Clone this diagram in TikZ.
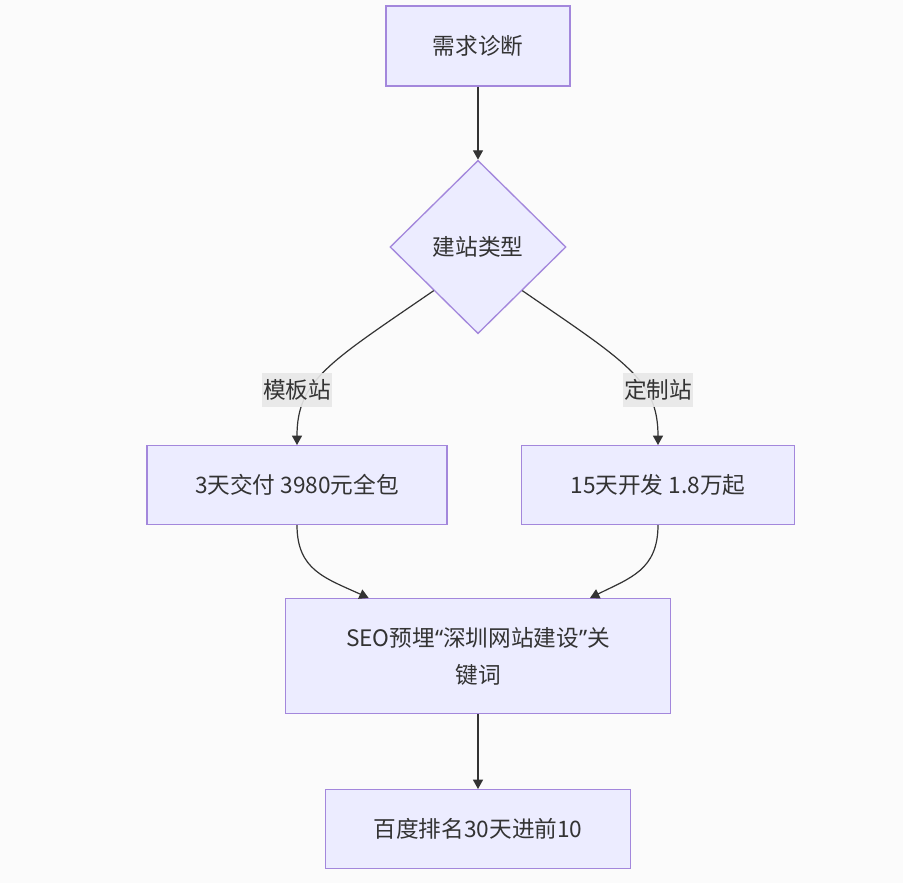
\documentclass[tikz,border=0pt]{standalone}
\usepackage{fontspec}
\setmainfont{Noto Sans CJK SC}
\newfontfamily\quotefont{Noto Sans}
\usetikzlibrary{shapes.geometric, arrows.meta}
\definecolor{bg}{HTML}{FBFBFB}
\definecolor{nodefill}{HTML}{ECECFF}
\definecolor{nodeline}{HTML}{A387DC}
\definecolor{linkgray}{HTML}{333333}
\definecolor{textgray}{HTML}{333333}
\definecolor{lblgray}{HTML}{E8E8E8}

\begin{document}
\begin{tikzpicture}[x=0.75pt, y=-0.75pt,
  every node/.style={font=\fontsize{17pt}{27.75pt}\selectfont, text=textgray},
  box/.style={rectangle, draw=nodeline, fill=nodefill, line width=1pt, align=center, inner sep=0pt},
  choice/.style={diamond, draw=nodeline, fill=nodefill, line width=1pt, inner sep=0pt, minimum width=132pt, minimum height=130pt},
  lbl/.style={fill=lblgray, fill opacity=0.9, text opacity=1, inner xsep=1pt, inner ysep=0pt, minimum height=26pt},
  link/.style={draw=linkgray, line width=0.9pt, -{Triangle[length=7pt,width=7.5pt]}}]
  \fill[bg] (0,0) rectangle (903,883);

  \node[box, minimum width=138pt, minimum height=60pt] (need) at (478,46) {需求诊断};
  \node[choice] (type) at (478,247) {建站类型};
  \node[box, minimum width=225pt, minimum height=59pt] (tpl) at (297,485) {3天交付 3980元全包};
  \node[box, minimum width=205pt, minimum height=59pt] (cus) at (658,485) {15天开发 1.8万起};
  \node[box, minimum width=289pt, minimum height=86pt] (seo) at (478,656)
    {SEO预埋{\quotefont“}深圳网站建设{\quotefont”}关\\键词};
  \node[box, minimum width=229pt, minimum height=59pt] (rank) at (478,829) {百度排名30天进前10};

  \draw[link] (need.south) -- (type.north);
  \draw[link] (type.south west) .. controls (330,362) and (297,380) .. (tpl.north);
  \draw[link] (type.south east) .. controls (626,362) and (658,380) .. (cus.north);
  \draw[link] (tpl.south) .. controls (297,570) and (325,578) .. ([xshift=-82pt]seo.north);
  \draw[link] (cus.south) .. controls (658,570) and (630,578) .. ([xshift=84pt]seo.north);
  \draw[link] (seo.south) -- (rank.north);

  \node[lbl] (lt) at (297,390) {模板站};
  \node[lbl] (lc) at (658,390) {定制站};
\end{tikzpicture}
\end{document}
